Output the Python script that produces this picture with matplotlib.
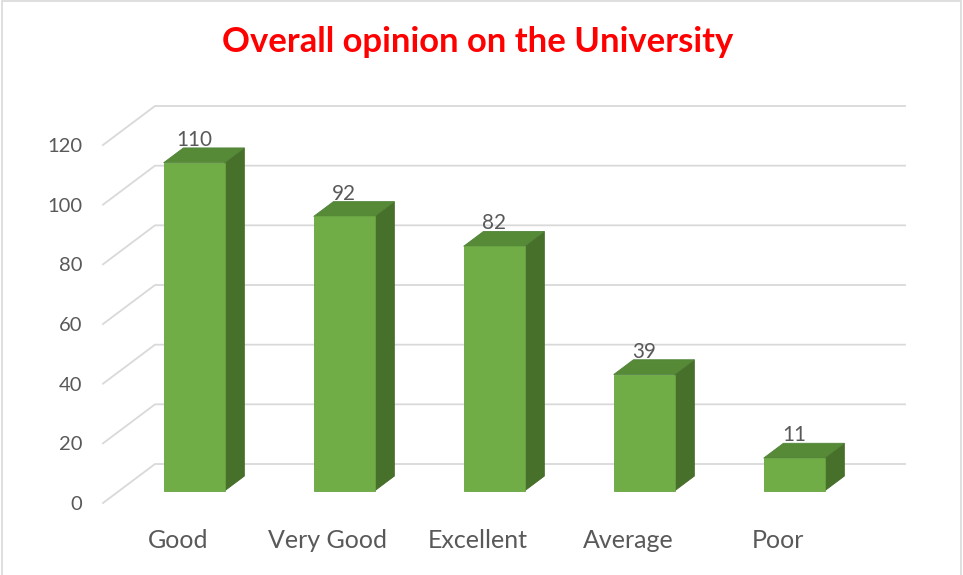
import matplotlib
matplotlib.use("Agg")
import matplotlib.pyplot as plt
from matplotlib.patches import Polygon, Rectangle
from matplotlib.lines import Line2D

categories = ["Good", "Very Good", "Excellent", "Average", "Poor"]
values = [110, 92, 82, 39, 11]
y_ticks = [0, 20, 40, 60, 80, 100, 120]
title = "Overall opinion on the University"

plt.rcParams['font.family'] = ['Lato', 'DejaVu Sans']

W, H = 963, 575
fig = plt.figure(figsize=(W / 100, H / 100), dpi=100)
fig.patch.set_facecolor('white')
renderer = fig.canvas.get_renderer()

TEXT = '#595959'
GRID = '#d9d9d9'
FRONT = '#70AD47'
TOP = '#568A36'
SIDE = '#47702A'


def fit_size(s, target_px, weight='normal', base=20):
    t = fig.text(0, 0, s, fontsize=base, fontweight=weight)
    w = t.get_window_extent(renderer).width
    t.remove()
    return base * target_px / w


# front plane of the 3D box (pixels)
L, R, B, T = 103, 853, 503, 145
ax = fig.add_axes([L / W, 1 - B / H, (R - L) / W, (B - T) / H])
ax.set_xlim(-0.5, len(categories) - 0.5)
ax.set_ylim(0, 120)
ax.patch.set_visible(False)
for s in ax.spines.values():
    s.set_visible(False)

# depth offset of the back wall (in pixels) -> data units
px_x = (R - L) / len(categories)
px_y = (B - T) / 120
DX = 52 / px_x
DY = 39 / px_y


def P(x, y, d):
    return (x + d * DX, y + d * DY)


# gridlines: front-left diagonal then along back wall
for v in y_ticks:
    x0 = -0.5
    x1 = len(categories) - 0.5
    pts = [P(x0, v, 0), P(x0, v, 1), P(x1, v, 1)]
    ax.add_line(Line2D([p[0] for p in pts], [p[1] for p in pts], color=GRID,
                       lw=1.3, clip_on=False, zorder=1))

# bars
hw = 0.203
d0, d1 = 0.31, 0.69
val_fs = fit_size("110", 36)
for i, v in enumerate(values):
    front = [P(i - hw, 0, d0), P(i + hw, 0, d0), P(i + hw, v, d0), P(i - hw, v, d0)]
    top = [P(i - hw, v, d0), P(i + hw, v, d0), P(i + hw, v, d1), P(i - hw, v, d1)]
    side = [P(i + hw, 0, d0), P(i + hw, 0, d1), P(i + hw, v, d1), P(i + hw, v, d0)]
    ax.add_patch(Polygon(side, closed=True, facecolor=SIDE, edgecolor='#436a27', lw=0.6,
                         clip_on=False, zorder=3))
    ax.add_patch(Polygon(top, closed=True, facecolor=TOP, edgecolor='#52833a', lw=0.6,
                         clip_on=False, zorder=3))
    ax.add_patch(Polygon(front, closed=True, facecolor=FRONT, edgecolor='#68a342', lw=0.6,
                         clip_on=False, zorder=4))
    lx, ly = P(i, v, d0)[0], P(i, v, d1)[1] + 2 / px_y
    ax.text(lx, ly, str(v), ha='center', va='baseline', fontsize=val_fs,
            color=TEXT, zorder=5, clip_on=False)

# axis labels
cat_fs = fit_size("Very Good", 119)
tick_fs = fit_size("120", 35)
ax.set_xticks(range(len(categories)))
ax.set_xticklabels(categories, fontsize=cat_fs, color=TEXT)
ax.set_yticks(y_ticks)
ax.set_yticklabels([str(v) for v in y_ticks], fontsize=tick_fs, color=TEXT)
ax.tick_params(axis='both', length=0)
ax.tick_params(axis='x', pad=19)
ax.tick_params(axis='y', pad=15)

# title
title_fs = fit_size(title, 511, weight='bold')
fig.text(477.5 / W, 1 - 52 / H, title, ha='center', va='baseline',
         fontsize=title_fs, fontweight='bold', color='#FF0000')

# chart border
fig.patches.append(Rectangle((1.5 / W, -0.05), (961 - 1.5) / W, 1.05 - 1.5 / H,
                             transform=fig.transFigure, fill=False,
                             edgecolor=GRID, lw=1.2))

fig.savefig("out.png", dpi=100, facecolor='white')
